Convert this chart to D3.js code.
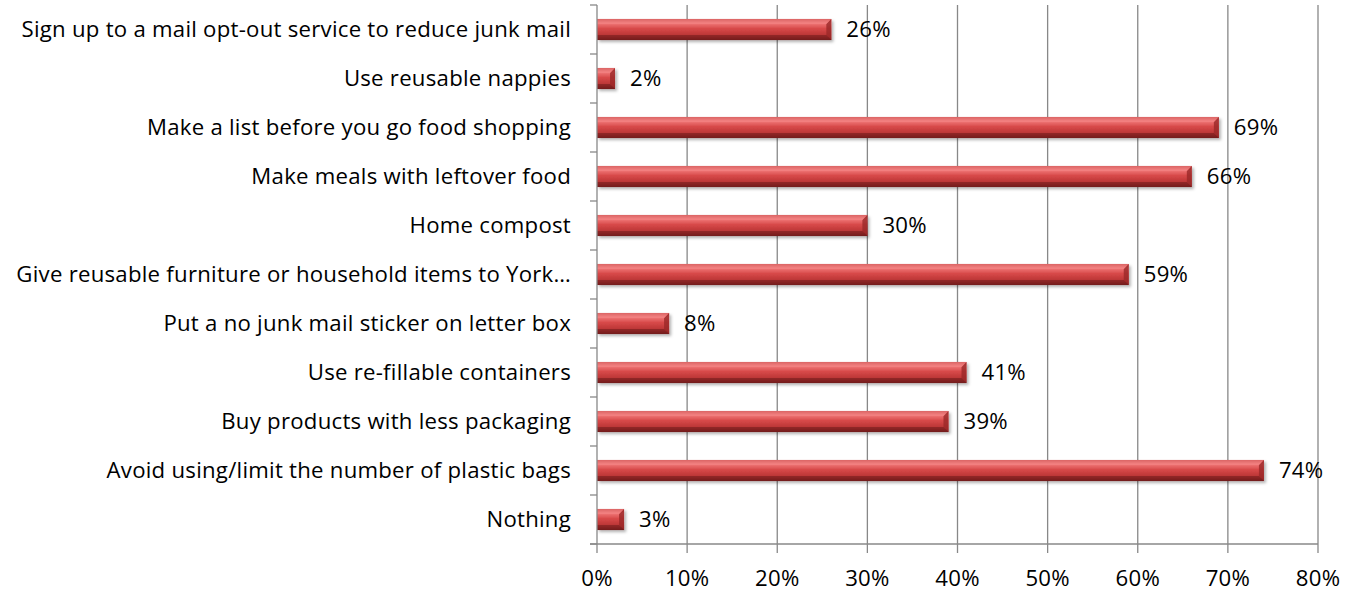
<!DOCTYPE html>
<html><head><meta charset="utf-8">
<script src="https://cdn.jsdelivr.net/npm/d3@7"></script>
<style>body{margin:0;background:#fff}svg{display:block}text{font-family:"Open Sans",sans-serif;fill:#000}</style>
</head><body>
<svg id="c" width="1354" height="593"></svg>
<script>
const categories = [
  "Sign up to a mail opt-out service to reduce junk mail",
  "Use reusable nappies",
  "Make a list before you go food shopping",
  "Make meals with leftover food",
  "Home compost",
  "Give reusable furniture or household items to York…",
  "Put a no junk mail sticker on letter box",
  "Use re-fillable containers",
  "Buy products with less packaging",
  "Avoid using/limit the number of plastic bags",
  "Nothing"
];
const values = [26, 2, 69, 66, 30, 59, 8, 41, 39, 74, 3];
const xTicks = [0, 10, 20, 30, 40, 50, 60, 70, 80];

const svg = d3.select("#c");
const pL = 597, pR = 1318, pT = 5, pB = 544;
const FS = 22.2, LS = 0.25;
const x = d3.scaleLinear().domain([0, 80]).range([pL, pR]);
const y = d3.scaleBand().domain(categories).range([pT, pB]).paddingInner(0.57).paddingOuter(0.285);

const defs = svg.append("defs");
const g = defs.append("linearGradient").attr("id","bar").attr("x1",0).attr("y1",0).attr("x2",0).attr("y2",1);
g.append("stop").attr("offset","0%").attr("stop-color","#c04040");
g.append("stop").attr("offset","20%").attr("stop-color","#f07878");
g.append("stop").attr("offset","45%").attr("stop-color","#d84a4a");
g.append("stop").attr("offset","80%").attr("stop-color","#b83434");
g.append("stop").attr("offset","100%").attr("stop-color","#7a1e1e");
const f = defs.append("filter").attr("id","sh").attr("x","-10%").attr("y","-30%").attr("width","130%").attr("height","180%");
f.append("feDropShadow").attr("dx",2).attr("dy",2).attr("stdDeviation",1.5).attr("flood-color","#000").attr("flood-opacity",0.3);

svg.append("g").selectAll("line").data(xTicks.slice(1)).join("line")
  .attr("x1", d=>x(d)).attr("x2", d=>x(d)).attr("y1", pT).attr("y2", pB)
  .attr("stroke","#888").attr("stroke-width",1.3);

const bars = svg.append("g").selectAll("g").data(categories).join("g");
bars.append("rect")
  .attr("x", x(0)).attr("y", d=>y(d)).attr("height", y.bandwidth())
  .attr("width", (d,i)=>x(values[i])-x(0))
  .attr("fill","url(#bar)").attr("filter","url(#sh)");
bars.append("path")
  .attr("d",(d,i)=>{const xe=x(values[i]), y0=y(d), h=y.bandwidth(), b=Math.min(5,(xe-x(0))/2);
    return `M${xe-b},${y0+b}L${xe},${y0}L${xe},${y0+h}L${xe-b},${y0+h-b}Z`;})
  .attr("fill","#9a2828").attr("opacity",0.8);
bars.append("path")
  .attr("d",(d,i)=>{const x0=x(0), xe=x(values[i]), y0=y(d), b=Math.min(5,(xe-x0)/2);
    return `M${x0},${y0}L${xe},${y0}L${xe-b},${y0+b}L${x0},${y0+b}Z`;})
  .attr("fill","#f58a8a").attr("opacity",0.5);
bars.append("path")
  .attr("d",(d,i)=>{const x0=x(0), xe=x(values[i]), y0=y(d), h=y.bandwidth(), b=Math.min(5,(xe-x0)/2);
    return `M${x0},${y0+h-b}L${xe-b},${y0+h-b}L${xe},${y0+h}L${x0},${y0+h}Z`;})
  .attr("fill","#6e1a1a").attr("opacity",0.55);

svg.append("g").selectAll("text").data(categories).join("text")
  .attr("x",(d,i)=>x(values[i])+15).attr("y", d=>y(d)+y.bandwidth()/2)
  .attr("dy","0.36em").attr("font-size",FS).attr("letter-spacing",LS).text((d,i)=>values[i]+"%");

const yAxisG = svg.append("g").attr("transform",`translate(${pL},0)`);
yAxisG.append("line").attr("x1",0).attr("x2",0).attr("y1",pT).attr("y2",pB).attr("stroke","#888").attr("stroke-width",1.3);
const yt = d3.range(categories.length+1).map(i=>pT + i*(pB-pT)/categories.length);
yAxisG.selectAll(".t").data(yt).join("line").attr("x1",-7).attr("x2",0).attr("y1",d=>d).attr("y2",d=>d).attr("stroke","#888").attr("stroke-width",1.3);
svg.append("g").selectAll("text").data(categories).join("text")
  .attr("x", 571).attr("y", d=>y(d)+y.bandwidth()/2).attr("dy","0.36em")
  .attr("text-anchor","end").attr("font-size",FS).attr("letter-spacing",LS).text(d=>d);

const xa = svg.append("g").attr("transform",`translate(0,${pB})`);
xa.append("line").attr("x1",pL-7).attr("x2",pR).attr("y1",0).attr("y2",0).attr("stroke","#888").attr("stroke-width",1.3);
xa.selectAll(".tk").data(xTicks).join("line").attr("x1",d=>x(d)).attr("x2",d=>x(d)).attr("y1",0).attr("y2",9).attr("stroke","#888").attr("stroke-width",1.3);
xa.selectAll("text").data(xTicks).join("text").attr("x",d=>x(d)).attr("y",42).attr("text-anchor","middle").attr("font-size",FS).attr("letter-spacing",LS).text(d=>d+"%");
</script>
</body></html>
